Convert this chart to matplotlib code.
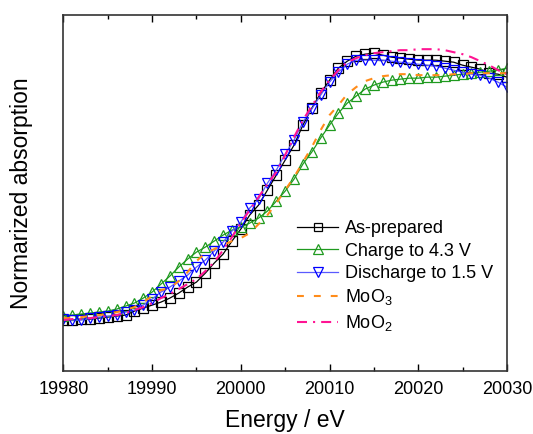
# Mo K-edge XANES comparison
import numpy as np
import matplotlib.pyplot as plt
from matplotlib.ticker import MultipleLocator

plt.rcParams['font.family'] = ['Liberation Sans', 'DejaVu Sans']
plt.rcParams['mathtext.fontset'] = 'custom'
plt.rcParams['mathtext.rm'] = 'Liberation Sans'

# energy grid, one point per eV
energy = np.arange(19980, 20031)

# normalized absorption (pre-edge ~0, edge step ~1)
as_prepared = [0.000, 0.000, 0.004, 0.004, 0.008, 0.012, 0.016, 0.020, 0.036, 0.048,
               0.060, 0.072, 0.088, 0.108, 0.132, 0.152, 0.188, 0.228, 0.264, 0.316,
               0.364, 0.420, 0.460, 0.520, 0.580, 0.640, 0.700, 0.780, 0.848, 0.908,
               0.960, 1.008, 1.036, 1.056, 1.064, 1.068, 1.060, 1.052, 1.048, 1.044,
               1.040, 1.040, 1.040, 1.036, 1.032, 1.020, 1.012, 1.004, 0.988, 0.984,
               0.972]
charge = [0.016, 0.020, 0.024, 0.028, 0.032, 0.036, 0.044, 0.056, 0.068, 0.088,
          0.112, 0.144, 0.176, 0.212, 0.244, 0.272, 0.292, 0.316, 0.340, 0.360,
          0.372, 0.388, 0.408, 0.436, 0.476, 0.516, 0.564, 0.624, 0.672, 0.728,
          0.780, 0.828, 0.868, 0.896, 0.924, 0.940, 0.952, 0.960, 0.964, 0.968,
          0.968, 0.972, 0.972, 0.976, 0.980, 0.984, 0.988, 0.992, 0.996, 1.000,
          1.008]
discharge = [0.004, 0.000, 0.000, 0.008, 0.012, 0.016, 0.020, 0.032, 0.040, 0.060,
             0.084, 0.112, 0.132, 0.156, 0.180, 0.212, 0.240, 0.276, 0.312, 0.356,
             0.392, 0.448, 0.484, 0.548, 0.600, 0.664, 0.720, 0.792, 0.844, 0.900,
             0.952, 0.992, 1.024, 1.040, 1.040, 1.040, 1.040, 1.036, 1.032, 1.028,
             1.024, 1.020, 1.016, 1.008, 1.000, 0.992, 0.984, 0.980, 0.968, 0.952,
             0.932]
moo3 = [0.008, 0.008, 0.012, 0.016, 0.020, 0.024, 0.032, 0.040, 0.052, 0.072,
        0.096, 0.120, 0.128, 0.156, 0.192, 0.236, 0.268, 0.284, 0.300, 0.316,
        0.328, 0.348, 0.384, 0.420, 0.468, 0.520, 0.572, 0.632, 0.692, 0.760,
        0.820, 0.860, 0.904, 0.932, 0.956, 0.968, 0.976, 0.980, 0.984, 0.984,
        0.980, 0.980, 0.980, 0.980, 0.984, 0.984, 0.988, 0.988, 0.988, 0.988,
        0.988]
moo2 = [0.000, 0.004, 0.004, 0.008, 0.012, 0.016, 0.020, 0.028, 0.040, 0.052,
        0.068, 0.088, 0.104, 0.124, 0.144, 0.164, 0.196, 0.232, 0.280, 0.332,
        0.388, 0.440, 0.492, 0.544, 0.592, 0.660, 0.732, 0.800, 0.856, 0.912,
        0.960, 1.000, 1.032, 1.048, 1.060, 1.068, 1.072, 1.076, 1.080, 1.080,
        1.084, 1.084, 1.084, 1.080, 1.072, 1.064, 1.052, 1.036, 1.020, 1.000,
        0.984]

fig = plt.figure(figsize=(5.33, 4.34), dpi=100)
ax = fig.add_axes([0.119, 0.145, 0.832, 0.820])

ms = 6.5
ax.plot(energy, as_prepared, '-', color='black', lw=0.9, marker='s', ms=ms,
        mfc='none', mec='black', mew=0.9, label='As-prepared')
ax.plot(energy, charge, '-', color='#1f9a1f', lw=0.9, marker='^', ms=ms + 0.8,
        mfc='none', mec='#1f9a1f', mew=0.9, label='Charge to 4.3 V')
ax.plot(energy, discharge, '-', color='#5a5aff', lw=0.9, marker='v', ms=ms + 0.8,
        mfc='none', mec='#0000ff', mew=0.9, label='Discharge to 1.5 V')
ax.plot(energy, moo3, '--', color='#ff8c1a', lw=1.5, dashes=(3.3, 4.8),
        label='MoO$_3$')
ax.plot(energy, moo2, '-.', color='#ff1493', lw=1.5, dashes=(4.8, 2.9, 1, 2.9),
        label='MoO$_2$')

ax.set_xlim(19980, 20030)
ax.set_ylim(-0.204, 1.22)
ax.xaxis.set_major_locator(MultipleLocator(10))
ax.xaxis.set_minor_locator(MultipleLocator(5))
ax.set_yticks([])
ax.tick_params(axis='x', which='both', direction='in', top=True, labelsize=13,
               pad=7)
ax.tick_params(axis='x', which='major', length=5, width=1)
ax.tick_params(axis='x', which='minor', length=3, width=1)
for sp in ax.spines.values():
    sp.set_linewidth(1.2)
    sp.set_color('#333333')

ax.set_xlabel('Energy / eV', fontsize=16.5, labelpad=8)
ax.set_ylabel('Normarized absorption', fontsize=16.5, labelpad=22)

ax.legend(loc='upper left', bbox_to_anchor=(0.5265, 0.424), frameon=False,
          borderpad=0, borderaxespad=0, fontsize=13, handlelength=2.3,
          handletextpad=0.35, labelspacing=0.3, markerscale=0.9)

fig.savefig('out.png', dpi=100)
